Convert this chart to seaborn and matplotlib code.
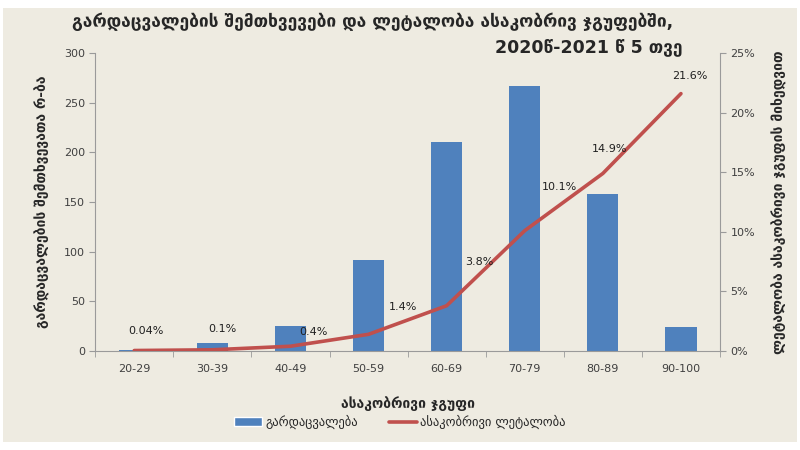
import numpy as np
import pandas as pd
import matplotlib
matplotlib.use("Agg")
import matplotlib.pyplot as plt
import seaborn as sns
from matplotlib.patches import Rectangle
from matplotlib.lines import Line2D
from matplotlib.ticker import PercentFormatter

# data
age_groups = ["20-29", "30-39", "40-49", "50-59", "60-69", "70-79", "80-89", "90-100"]
deaths = [1, 8, 25, 92, 210, 267, 158, 24]
lethality = [0.04, 0.1, 0.4, 1.4, 3.8, 10.1, 14.9, 21.6]
lethality_labels = ["0.04%", "0.1%", "0.4%", "1.4%", "3.8%", "10.1%", "14.9%", "21.6%"]

title_line1 = "გარდაცვალების შემთხვევები და ლეტალობა ასაკობრივ ჯგუფებში,"
title_line2 = "2020წ-2021 წ 5 თვე"
xlabel = "ასაკობრივი ჯგუფი"
ylabel_left = "გარდაცვალების შემთხვევათა რ-ბა"
ylabel_right = "ლეტალობა ასაკობრივი ჯგუფის მიხედვით"
legend_bar = "გარდაცვალება"
legend_line = "ასაკობრივი ლეტალობა"

bg = "#EEEBE1"
bar_color = "#4F81BD"
line_color = "#C0504D"
tick_color = "#404040"
spine_color = "#9A9A9A"

sns.set_style("white")
plt.rcParams['font.family'] = ['DejaVu Sans']

df = pd.DataFrame({"group": age_groups, "deaths": deaths, "lethality": lethality})

fig = plt.figure(figsize=(8, 4.5), dpi=100)
fig.patch.set_facecolor("white")
fig.patches.append(Rectangle((0.004, 0.017), 0.992, 0.966, transform=fig.transFigure,
                             facecolor=bg, edgecolor="none", zorder=-10))

ax = fig.add_axes([0.119, 0.22, 0.781, 0.662])
ax.set_facecolor(bg)
sns.barplot(data=df, x="group", y="deaths", color=bar_color, width=0.4,
            saturation=1, linewidth=0, edgecolor="none", ax=ax, zorder=2)
ax.set_ylim(0, 300)
ax.set_yticks(range(0, 301, 50))
ax.set_xlim(-0.5, len(age_groups) - 0.5)

ax2 = ax.twinx()
sns.lineplot(x=np.arange(len(age_groups)), y=df["lethality"], color=line_color,
             linewidth=2.6, ax=ax2, zorder=3)
ax2.set_ylim(0, 25)
ax2.set_yticks(range(0, 26, 5))
ax2.yaxis.set_major_formatter(PercentFormatter(decimals=0))

# data labels
offsets = [(12, 20), (10, 21), (23, 14), (34, 27), (33, 44), (35, 44), (7, 24), (9, 18)]
for i, (val, lab) in enumerate(zip(lethality, lethality_labels)):
    ax2.annotate(lab, (i, val), xytext=offsets[i], textcoords="offset pixels",
                 ha="center", va="center", fontsize=8, color="#202020")

for a in (ax, ax2):
    for s in a.spines.values():
        s.set_visible(False)
    a.set_xlabel("")
    a.set_ylabel("")
    a.grid(False)

ax.spines["left"].set_visible(True)
ax.spines["left"].set_color(spine_color)
ax.spines["bottom"].set_visible(True)
ax.spines["bottom"].set_color(spine_color)
ax2.spines["right"].set_visible(True)
ax2.spines["right"].set_color(spine_color)

ax.tick_params(axis="y", length=4, color=spine_color, labelsize=8, labelcolor=tick_color, left=True)
ax2.tick_params(axis="y", length=4, color=spine_color, labelsize=8, labelcolor=tick_color, right=True)
ax.tick_params(axis="x", which="major", length=0, labelsize=8, labelcolor=tick_color, pad=9)
ax.set_xticks(np.arange(-0.5, len(age_groups), 1), minor=True)
ax.tick_params(axis="x", which="minor", length=4, color=spine_color, bottom=True)

ax.set_ylabel(ylabel_left, fontsize=10, fontweight="bold", labelpad=10)
ax2.set_ylabel(ylabel_right, fontsize=10, fontweight="bold", rotation=90, labelpad=12)
ax.set_xlabel(xlabel, fontsize=10, fontweight="bold", labelpad=16)

fig.text(0.466, 0.951, title_line1, ha="center", va="center", fontsize=12.5, fontweight="bold")
fig.text(0.853, 0.896, title_line2, ha="right", va="center", fontsize=12.5, fontweight="bold")

handles = [Rectangle((0, 0), 1, 1, facecolor=bar_color),
           Line2D([0], [0], color=line_color, linewidth=2.6)]
fig.legend(handles, [legend_bar, legend_line], loc="center", bbox_to_anchor=(0.5, 0.062),
           ncol=2, frameon=False, fontsize=9, handlelength=2.2, handletextpad=0.3,
           columnspacing=2.5)

fig.savefig("out.png", dpi=100, facecolor=fig.get_facecolor())
